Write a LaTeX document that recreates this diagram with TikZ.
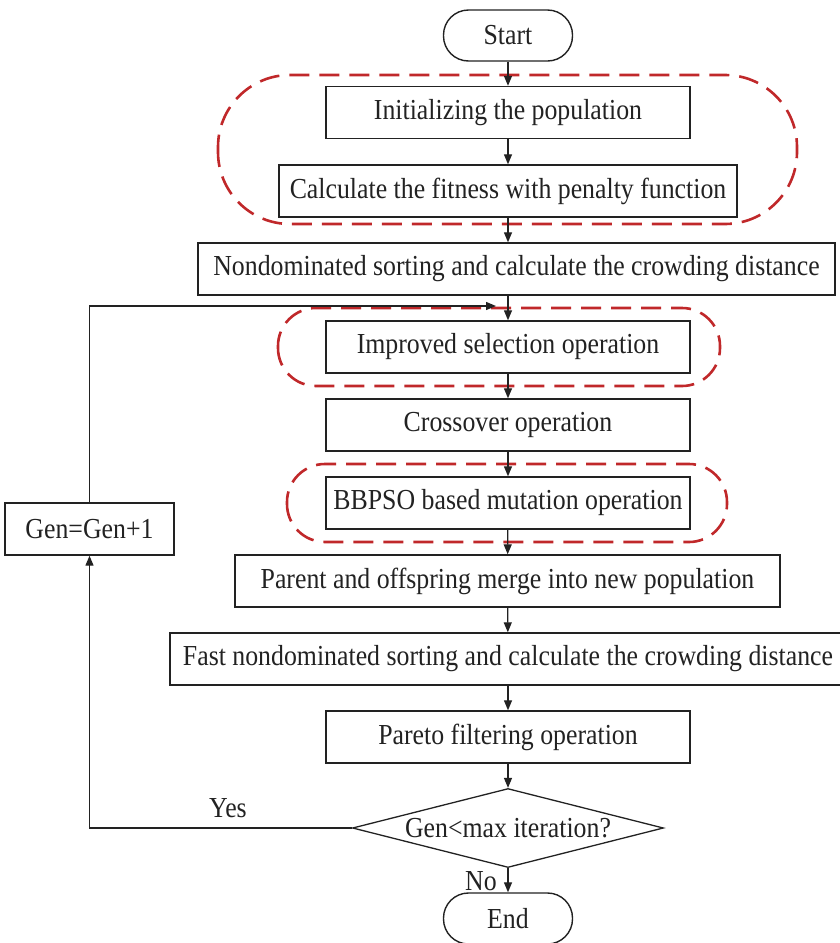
\documentclass[tikz,border=0pt]{standalone}
\usepackage{fontspec}
\setmainfont{Liberation Serif}[FakeStretch=0.89]
\usetikzlibrary{arrows.meta,shapes.geometric}
\definecolor{dred}{HTML}{C0282A}
\definecolor{ink}{HTML}{222222}
\begin{document}
\begin{tikzpicture}[x=1pt,y=-1pt,
  box/.style={draw=ink,line width=1.4pt,minimum height=52pt,inner sep=0pt,text=ink,font=\fontsize{29}{33}\selectfont},
  term/.style={box,rounded corners=25pt,minimum width=129pt,minimum height=51pt},
  decision/.style={diamond,draw=ink,line width=1.3pt,minimum width=311pt,minimum height=79pt,aspect=3.9,inner sep=0pt,text=ink,font=\fontsize{29}{33}\selectfont},
  link/.style={draw=ink,line width=1.3pt,-{Triangle[length=10pt,width=8pt]}},
  grp/.style={draw=dred,line width=2.6pt,dash pattern=on 20pt off 10pt},
  lbl/.style={text=ink,inner sep=0pt,font=\fontsize{29}{33}\selectfont}]
\useasboundingbox (0,0) rectangle (840,943);
% groups
\draw[grp, rounded corners=72pt] (218,75) rectangle (797,224);
\draw[grp, rounded corners=38pt] (278,308) rectangle (720,386);
\draw[grp, rounded corners=38pt] (287,464) rectangle (727,542);
% nodes
\node[term] (start) at (508,35.5) {Start};
\node[box,minimum width=364pt] (init) at (508,112.5) {Initializing the population};
\node[box,minimum width=458pt] (fit) at (508,191) {Calculate the fitness with penalty function};
\node[box,minimum width=637pt] (nds) at (516.5,269) {Nondominated sorting and calculate the crowding distance};
\node[box,minimum width=364pt] (sel) at (508,347) {Improved selection operation};
\node[box,minimum width=364pt] (cross) at (508,425) {Crossover operation};
\node[box,minimum width=364pt] (mut) at (508,503) {BBPSO based mutation operation};
\node[box,minimum width=545pt] (merge) at (507.5,581) {Parent and offspring merge into new population};
\node[box,minimum width=676pt] (fast) at (508,659) {Fast nondominated sorting and calculate the crowding distance};
\node[box,minimum width=364pt] (pareto) at (508,737) {Pareto filtering operation};
\node[decision] (dec) at (508,828) {Gen<max iteration?};
\node[term] (end) at (508,918.5) {End};
\node[box,minimum width=169pt] (gen) at (89.5,529) {Gen=Gen+1};
\node[lbl] (yes) at (228,808) {Yes};
\node[lbl] (no) at (481,881) {No};
\coordinate (loopend) at (496,306);
% connectors
\draw[link] (start) -- (init);
\draw[link] (init) -- (fit);
\draw[link] (fit.south) -- (fit.south |- nds.north);
\draw[link] (nds.south -| sel.north) -- (sel.north);
\draw[link] (sel) -- (cross);
\draw[link] (cross) -- (mut);
\draw[link] (mut) -- (merge);
\draw[link] (merge) -- (fast);
\draw[link] (fast) -- (pareto);
\draw[link] (pareto) -- (dec);
\draw[link] (dec) -- (end);
\draw[link] (dec.west) -- (gen.south |- dec.west) -- (gen.south);
\draw[link] (gen.north) |- (loopend);
\end{tikzpicture}
\end{document}
